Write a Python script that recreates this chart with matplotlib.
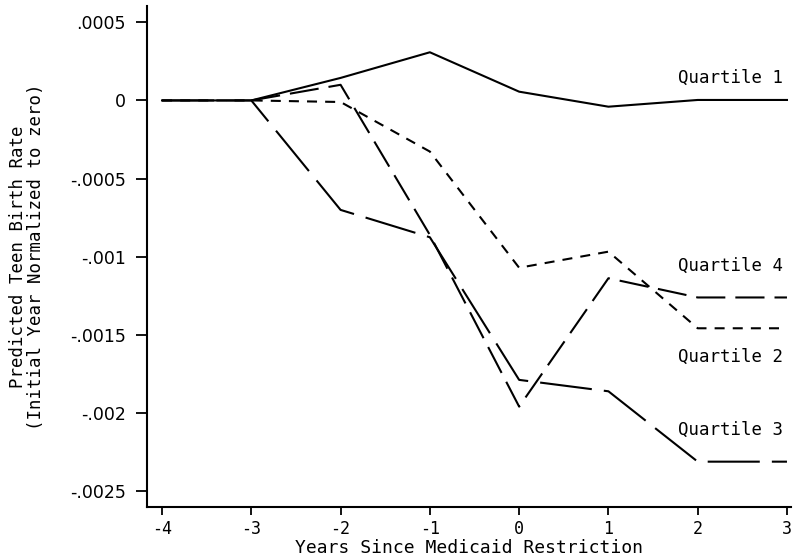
import matplotlib
matplotlib.use("Agg")
import matplotlib.pyplot as plt

years = [-4, -3, -2, -1, 0, 1, 2, 3]
q1 = [0, 0, 0.000144, 0.000308, 0.000056, -0.00004, 0.000003, 0.000003]
q2 = [0, 0, -0.00001, -0.000327, -0.00107, -0.000967, -0.001457, -0.001457]
q3 = [0, 0, -0.00070, -0.000875, -0.001787, -0.00186, -0.00231, -0.00231]
q4_years = [-3, -2, -1, 0, 1, 2, 3]
q4 = [0, 0.00010, -0.00086, -0.001958, -0.001137, -0.00126, -0.00126]

yticks = [0.0005, 0, -0.0005, -0.001, -0.0015, -0.002, -0.0025]
yticklabels = [".0005", "0", "-.0005", "-.001", "-.0015", "-.002", "-.0025"]
xticks = [-4, -3, -2, -1, 0, 1, 2, 3]
xticklabels = ["-4", "-3", "-2", "-1", "0", "1", "2", "3"]

labels = ["Quartile 1", "Quartile 4", "Quartile 2", "Quartile 3"]
label_y = [0.000144, -0.00106, -0.00164, -0.00211]

mono = ['DejaVu Sans Mono']
plt.rcParams['font.family'] = mono

fig = plt.figure(figsize=(8.01, 5.59), dpi=100)
ax = fig.add_axes([0.1829, 0.0930, 0.8046, 0.8963])

lw = 1.5
ax.plot(years, q1, color='black', lw=lw)
ax.plot(years, q2, color='black', lw=lw, dashes=(4.8, 3.9))
ax.plot(years, q3, color='black', lw=lw, dashes=(25, 5.8))
ax.plot(q4_years, q4, color='black', lw=lw, dashes=(14, 4.8))

for t, y in zip(labels, label_y):
    ax.text(1.78, y, t, fontsize=12.5, ha='left', va='center')

ax.set_xlim(-4.174, 3.045)
ax.set_ylim(-0.0026, 0.000604)
ax.set_xticks(xticks)
ax.set_xticklabels(xticklabels, fontsize=12)
ax.set_yticks(yticks)
ax.set_yticklabels(yticklabels, fontsize=12.5, family='DejaVu Sans')
ax.tick_params(axis='x', direction='out', length=6, width=1.3, pad=3)
ax.tick_params(axis='y', direction='out', length=8, width=1.3, pad=7)
for s in ['top', 'right']:
    ax.spines[s].set_visible(False)
for s in ['left', 'bottom']:
    ax.spines[s].set_linewidth(1.5)

ax.set_xlabel("Years Since Medicaid Restriction", fontsize=13, labelpad=1)
ax.set_ylabel("Predicted Teen Birth Rate\n(Initial Year Normalized to zero)",
              fontsize=12.5, labelpad=18, linespacing=1.0)

fig.savefig("out.png", dpi=100)
